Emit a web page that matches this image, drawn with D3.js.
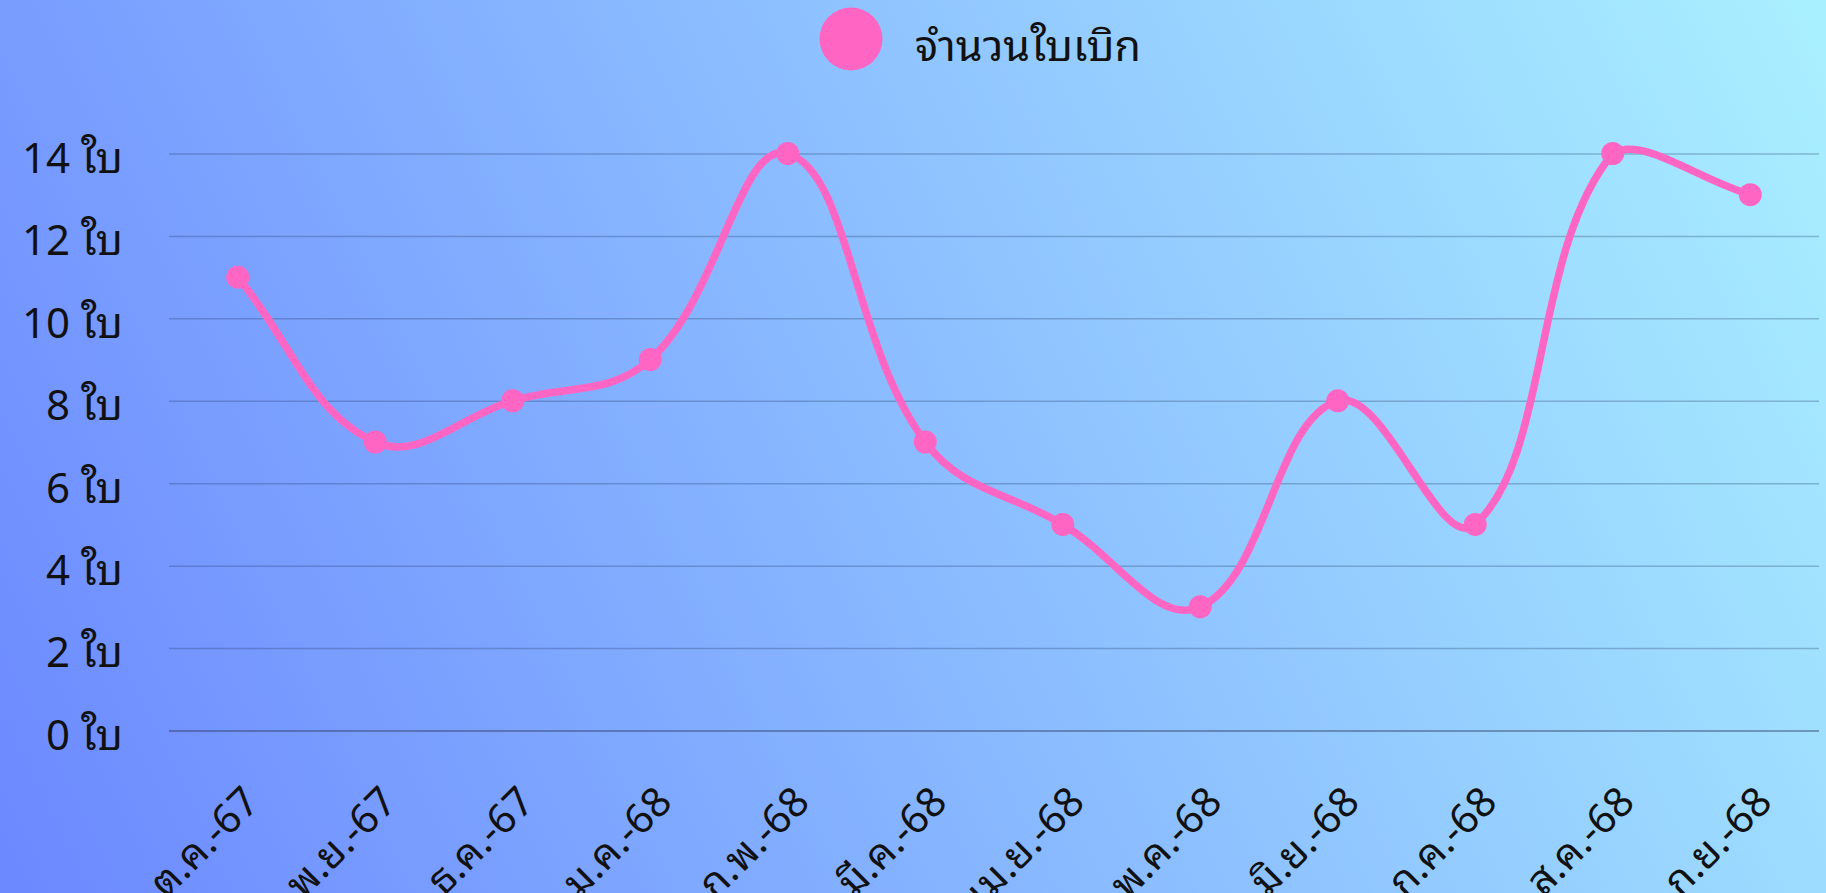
<!DOCTYPE html>
<html>
<head>
<meta charset="utf-8">
<script src="https://cdn.jsdelivr.net/npm/d3@7"></script>
<style>
  html, body { margin: 0; padding: 0; overflow: hidden; }
  svg text { font-family: "Noto Sans Thai Looped", "Noto Sans Thai", "Noto Sans", sans-serif; fill: #111; }
</style>
</head>
<body>
<svg id="chart"></svg>
<script>
const months = ["ต.ค.-67", "พ.ย.-67", "ธ.ค.-67", "ม.ค.-68", "ก.พ.-68", "มี.ค.-68",
  "เม.ย.-68", "พ.ค.-68", "มิ.ย.-68", "ก.ค.-68", "ส.ค.-68", "ก.ย.-68"];
const counts = [11, 7, 8, 9, 14, 7, 5, 3, 8, 5, 14, 13];
const yTicks = [0, 2, 4, 6, 8, 10, 12, 14];
const seriesName = "จำนวนใบเบิก";
const unit = "ใบ";

const W = 1826, H = 893;
const margin = { top: 153.5, right: 7, bottom: 162.5, left: 169 };
const pink = "#ff66c4";

const svg = d3.select("#chart").attr("width", W).attr("height", H);

// background gradient, bottom-left to top-right
const defs = svg.append("defs");
const grad = defs.append("linearGradient").attr("id", "bg")
  .attr("gradientUnits", "userSpaceOnUse")
  .attr("x1", 0).attr("y1", H).attr("x2", W).attr("y2", 0);
grad.append("stop").attr("offset", "0%").attr("stop-color", "#6c88ff");
grad.append("stop").attr("offset", "100%").attr("stop-color", "#a9f0ff");
svg.append("rect").attr("width", W).attr("height", H).attr("fill", "url(#bg)");

const x = d3.scaleBand().domain(months).range([margin.left, W - margin.right]);
const y = d3.scaleLinear().domain([0, 14]).range([H - margin.bottom, margin.top]);

// grid + y labels
const yAxis = svg.append("g")
  .attr("transform", `translate(${margin.left},0)`)
  .call(d3.axisLeft(y).tickValues(yTicks)
    .tickSize(-(W - margin.left - margin.right))
    .tickPadding(46)
    .tickFormat(d => `${d} ${unit}`));
yAxis.select(".domain").remove();
yAxis.selectAll(".tick line")
  .attr("stroke", d => d === 0 ? "rgba(40,50,90,0.55)" : "rgba(40,60,100,0.3)")
  .attr("stroke-width", 1.5);
yAxis.selectAll(".tick text")
  .attr("font-size", 42).attr("fill", "#111")
  .attr("dy", "0.45em");

// x labels
const xAxis = svg.append("g")
  .attr("transform", `translate(0,${H - margin.bottom})`)
  .call(d3.axisBottom(x).tickSize(0).tickPadding(0));
xAxis.select(".domain").remove();
xAxis.selectAll(".tick text")
  .attr("font-size", 41).attr("fill", "#111")
  .attr("text-anchor", "end")
  .attr("dy", null).attr("y", null)
  .attr("dominant-baseline", "middle")
  .attr("transform", "translate(16,66) rotate(-45)");

// Chart.js-style spline (tension 0.4)
const pts = counts.map((v, i) => ({ x: x(months[i]) + x.bandwidth() / 2, y: y(v) }));
const t = 0.4, capTop = margin.top - 18;
pts.forEach((p, i) => {
  const prev = pts[i - 1] || p, next = pts[i + 1] || p;
  const d01 = Math.hypot(p.x - prev.x, p.y - prev.y);
  const d12 = Math.hypot(next.x - p.x, next.y - p.y);
  let s01 = d01 / (d01 + d12), s12 = d12 / (d01 + d12);
  if (isNaN(s01)) s01 = 0;
  if (isNaN(s12)) s12 = 0;
  const fa = t * s01, fb = t * s12;
  p.c1 = { x: p.x - fa * (next.x - prev.x), y: Math.max(capTop, p.y - fa * (next.y - prev.y)) };
  p.c2 = { x: p.x + fb * (next.x - prev.x), y: Math.max(capTop, p.y + fb * (next.y - prev.y)) };
});
const path = d3.path();
path.moveTo(pts[0].x, pts[0].y);
for (let i = 1; i < pts.length; i++) {
  const a = pts[i - 1], b = pts[i];
  path.bezierCurveTo(a.c2.x, a.c2.y, b.c1.x, b.c1.y, b.x, b.y);
}
svg.append("path").attr("d", path.toString())
  .attr("fill", "none").attr("stroke", pink).attr("stroke-width", 7.5)
  .attr("stroke-linejoin", "round");

svg.append("g").selectAll("circle").data(counts).join("circle")
  .attr("cx", (d, i) => x(months[i]) + x.bandwidth() / 2)
  .attr("cy", d => y(d))
  .attr("r", 11.5)
  .attr("fill", pink);

// legend
const legend = svg.append("g");
legend.append("circle").attr("cx", 851).attr("cy", 39).attr("r", 31.5).attr("fill", pink);
legend.append("text").attr("x", 915).attr("y", 61).attr("font-size", 43).text(seriesName);
</script>
</body>
</html>
